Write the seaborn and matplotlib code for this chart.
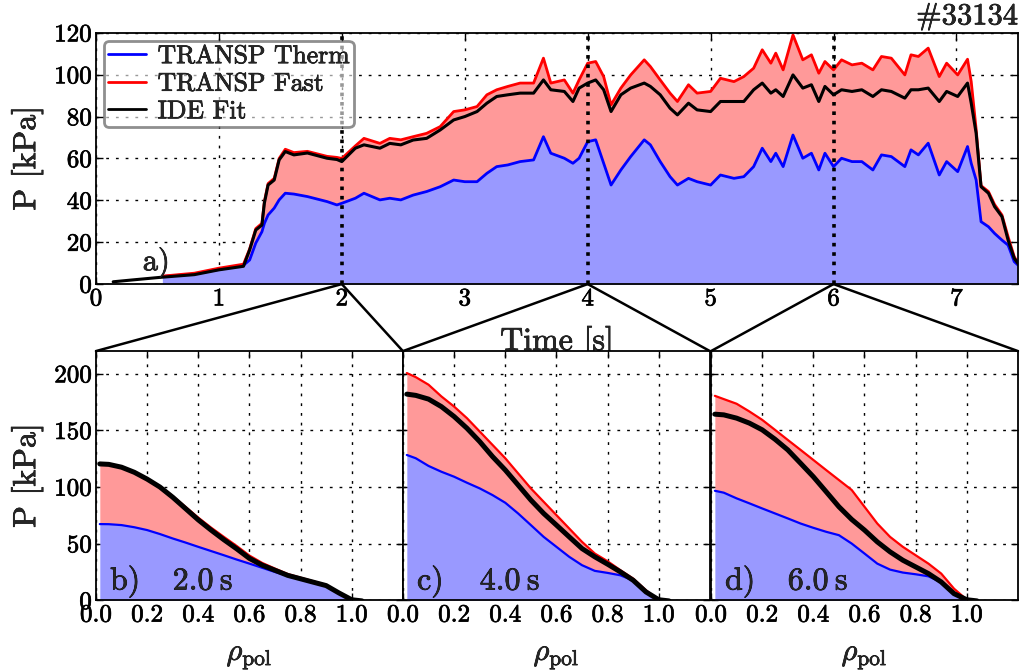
import numpy as np
import pandas as pd
import matplotlib
matplotlib.use("Agg")
import matplotlib.pyplot as plt
import matplotlib.patheffects as pe
import seaborn as sns
from matplotlib.patches import ConnectionPatch

# ---- time traces (top panel) ----
t_transp = [0.54, 0.80, 1.00, 1.20, 1.25, 1.30, 1.35, 1.37, 1.40, 1.45, 1.49, 1.54, 1.61, 1.72, 1.88, 1.96,
            2.00, 2.11, 2.18, 2.31, 2.39, 2.48, 2.58, 2.69, 2.80, 2.91, 3.00, 3.10, 3.18, 3.26, 3.35, 3.45,
            3.56, 3.64, 3.70, 3.81, 3.88, 3.93, 4.00, 4.065, 4.13, 4.19, 4.27, 4.35, 4.46, 4.51, 4.59, 4.67,
            4.73, 4.82, 4.89, 5.00, 5.08, 5.19, 5.27, 5.35, 5.42, 5.49, 5.53, 5.59, 5.67, 5.75, 5.82, 5.88,
            5.93, 6.00, 6.065, 6.15, 6.23, 6.32, 6.39, 6.47, 6.58, 6.63, 6.69, 6.77, 6.86, 6.92, 7.01, 7.09,
            7.12, 7.16, 7.20, 7.26, 7.31, 7.37, 7.42, 7.47, 7.50]
p_therm = [3.6, 4.8, 7.0, 9.0, 11.5, 19.6, 25.0, 29.0, 33.0, 36.3, 40.2, 43.4, 43.0, 41.8, 39.4, 37.8,
           38.6, 41.0, 43.4, 40.2, 41.0, 40.2, 42.5, 44.2, 46.5, 49.7, 48.9, 48.9, 52.9, 56.1, 56.9, 58.5,
           59.3, 70.4, 62.5, 60.1, 57.7, 60.1, 68.0, 68.9, 57.7, 47.3, 54.5, 60.9, 68.9, 66.5, 58.5, 51.3,
           47.3, 50.5, 48.9, 47.3, 52.1, 50.5, 51.3, 56.1, 64.9, 58.5, 62.5, 56.1, 71.2, 60.1, 62.5, 54.5,
           62.5, 56.1, 60.1, 58.5, 58.5, 54.5, 61.7, 60.9, 56.1, 64.1, 61.7, 67.3, 52.1, 58.5, 53.7, 65.7,
           57.7, 49.7, 29.8, 27.4, 24.2, 21.0, 18.6, 10.7, 9.1]
p_total = [3.8, 5.2, 7.6, 9.5, 16.8, 26.5, 29.0, 39.5, 48.0, 50.5, 60.0, 64.4, 62.8, 63.4, 61.0, 60.5,
           60.0, 66.0, 69.6, 67.2, 69.6, 68.9, 70.4, 72.0, 75.2, 82.4, 83.2, 84.8, 90.4, 92.8, 94.4, 96.0,
           96.0, 107.9, 96.0, 97.5, 91.2, 97.5, 105.5, 106.3, 99.1, 85.6, 93.6, 99.9, 107.1, 103.9, 97.5, 91.2,
           87.2, 95.2, 91.2, 92.0, 98.3, 96.7, 99.1, 103.1, 111.9, 105.5, 110.3, 102.3, 119.0, 107.1, 109.5, 100.7,
           106.3, 102.3, 107.1, 104.7, 105.5, 102.3, 108.7, 107.9, 99.9, 109.5, 108.7, 112.7, 99.1, 105.5, 99.9, 107.4,
           96.7, 74.0, 47.0, 44.2, 38.0, 33.0, 22.6, 13.1, 10.0]

t_ide = [0.14, 0.30, 0.52, 0.80, 1.00, 1.20, 1.25, 1.30, 1.35, 1.37, 1.40, 1.45, 1.49, 1.54, 1.61, 1.72,
         1.88, 1.96, 2.00, 2.11, 2.18, 2.31, 2.39, 2.48, 2.58, 2.69, 2.80, 2.91, 3.00, 3.10, 3.18, 3.26,
         3.35, 3.45, 3.56, 3.64, 3.70, 3.81, 3.88, 3.93, 4.00, 4.065, 4.13, 4.19, 4.27, 4.35, 4.46, 4.51,
         4.59, 4.67, 4.73, 4.82, 4.89, 5.00, 5.08, 5.19, 5.27, 5.35, 5.42, 5.49, 5.53, 5.59, 5.67, 5.75,
         5.82, 5.88, 5.93, 6.00, 6.065, 6.15, 6.23, 6.32, 6.39, 6.47, 6.58, 6.63, 6.69, 6.77, 6.86, 6.92,
         7.01, 7.09, 7.12, 7.16, 7.20, 7.26, 7.31, 7.37, 7.42, 7.47, 7.50]
p_ide = [1.1, 2.0, 3.2, 4.5, 6.8, 8.5, 16.3, 25.8, 28.2, 38.7, 47.3, 49.7, 59.3, 63.3, 61.7, 62.6,
         60.1, 59.5, 58.5, 64.9, 66.5, 64.9, 67.2, 66.5, 68.8, 69.6, 73.6, 78.4, 80.0, 82.4, 86.4, 89.6,
         90.4, 91.2, 91.2, 97.5, 92.8, 92.0, 87.2, 93.6, 96.0, 97.5, 92.8, 82.4, 90.4, 93.6, 96.0, 94.4,
         90.4, 84.0, 80.8, 86.4, 83.2, 82.4, 87.2, 87.2, 87.2, 92.8, 96.0, 91.2, 92.8, 89.6, 99.9, 93.6,
         95.2, 87.2, 94.4, 90.4, 92.8, 92.0, 92.8, 89.6, 92.8, 92.0, 88.8, 92.8, 92.8, 93.6, 87.2, 92.0,
         89.6, 96.0, 86.4, 72.0, 46.5, 43.4, 37.0, 32.2, 21.0, 12.3, 9.9]

# ---- profiles (bottom panels) ----
rho = [0.015, 0.05, 0.10, 0.15, 0.20, 0.25, 0.30, 0.35, 0.40, 0.45, 0.50,
       0.55, 0.60, 0.65, 0.70, 0.75, 0.80, 0.85, 0.90, 0.95, 1.00]
rho_ide = rho + [1.04]

prof_times = [2.0, 4.0, 6.0]
prof_labels = ['b)', 'c)', 'd)']
prof_therm = [
    [67.3, 67.2, 66.4, 64.5, 62.0, 58.5, 54.6, 51.0, 47.2, 43.5, 39.8,
     36.0, 32.4, 28.7, 25.0, 21.8, 19.0, 16.2, 13.0, 6.0, 0.0],
    [128.3, 125.4, 118.6, 113.5, 109.1, 103.8, 98.8, 92.9, 86.1, 76.7, 66.4,
     56.0, 47.2, 38.4, 31.0, 26.0, 24.2, 22.1, 17.5, 7.0, 0.0],
    [96.7, 95.0, 90.0, 85.6, 81.1, 76.7, 72.3, 67.8, 64.0, 60.5, 57.5,
     50.1, 41.3, 32.4, 27.1, 24.5, 23.0, 21.2, 16.0, 5.5, 0.0],
]
prof_total = [
    [120.4, 120.0, 117.5, 113.0, 107.2, 100.5, 92.0, 82.5, 73.0, 64.2, 56.0,
     48.0, 39.5, 33.0, 28.0, 23.2, 20.0, 16.8, 13.5, 6.8, 0.0],
    [200.6, 197.0, 190.3, 180.0, 171.0, 160.8, 149.0, 137.2, 125.4, 112.1, 98.8,
     87.0, 75.2, 63.4, 51.6, 41.3, 34.5, 26.6, 19.2, 8.9, 0.0],
    [180.5, 177.6, 173.5, 166.7, 159.3, 150.5, 141.6, 132.8, 123.9, 115.0, 106.2,
     97.4, 82.6, 67.8, 56.0, 47.2, 39.8, 32.4, 23.6, 10.3, 0.5],
]
prof_ide = [
    [120.4, 120.0, 117.5, 113.0, 107.0, 100.0, 91.0, 81.0, 71.0, 62.0, 53.5,
     45.5, 37.0, 31.0, 26.5, 22.0, 19.0, 16.0, 13.0, 6.5, 0.5, -0.5],
    [182.0, 180.9, 177.6, 171.0, 162.2, 151.9, 140.1, 126.9, 115.0, 101.8, 88.5,
     76.7, 66.4, 56.0, 45.7, 38.4, 31.9, 25.1, 17.7, 7.4, 0.5, -0.5],
    [164.3, 163.7, 160.8, 156.4, 150.5, 142.2, 132.8, 121.0, 109.1, 95.9, 82.6,
     71.4, 62.0, 51.6, 42.8, 35.4, 29.5, 23.6, 16.2, 5.9, 0.5, -0.5],
]

BLUE_FILL = '#9999ff'
RED_FILL = '#ff9999'

sns.set_theme(style='ticks')
plt.rcParams['font.family'] = ['cmr10', 'DejaVu Serif']
plt.rcParams['mathtext.fontset'] = 'cm'
plt.rcParams['axes.unicode_minus'] = False
plt.rcParams['axes.formatter.use_mathtext'] = True
plt.rcParams['axes.edgecolor'] = 'black'
plt.rcParams['xtick.color'] = 'black'
plt.rcParams['ytick.color'] = 'black'

GRID_LS = (0, (2, 5))


def style_axes(ax):
    ax.tick_params(direction='in', top=True, right=True, length=5, width=1, labelsize=18, pad=3)
    ax.grid(True, color='black', linestyle=GRID_LS, linewidth=1)
    for s in ax.spines.values():
        s.set_color('black')
        s.set_linewidth(1.3)


fig = plt.figure(figsize=(10.21, 6.70), dpi=100)

# ---- top panel ----
ax = fig.add_axes([0.094, 0.576, 0.903, 0.375])
ax.fill_between(t_transp, 0, p_therm, color=BLUE_FILL, lw=0)
ax.fill_between(t_transp, p_therm, p_total, color=RED_FILL, lw=0)
sns.lineplot(x=t_transp, y=p_therm, ax=ax, color='#0000ff', lw=2, label='TRANSP Therm',
             estimator=None, sort=False)
sns.lineplot(x=t_transp, y=p_total, ax=ax, color='#ff0000', lw=2, label='TRANSP Fast',
             estimator=None, sort=False)
sns.lineplot(x=t_ide, y=p_ide, ax=ax, color='black', lw=2.2, label='IDE Fit',
             estimator=None, sort=False)
for tt in prof_times:
    ax.axvline(tt, color='black', lw=2.6, linestyle=(0, (1, 1.6)), zorder=5)
ax.set_xlim(0, 7.5)
ax.set_ylim(0, 120)
ax.set_xticks(range(8))
ax.set_xticklabels([str(i) for i in range(8)])
ax.set_yticks(range(0, 121, 20))
ax.set_yticklabels([str(i) for i in range(0, 121, 20)])
style_axes(ax)
ax.set_xlabel('Time [s]', fontsize=23, labelpad=12)
ax.set_ylabel('P [kPa]', fontsize=23, labelpad=8)
ax.text(0.38, 6.6, 'a)', fontsize=22, ha='left', va='baseline')
ax.text(1.0, 1.01, '#33134', transform=ax.transAxes, fontsize=22, ha='right', va='bottom')
leg = ax.legend(loc='upper left', fontsize=18.5, handlelength=1.5, handletextpad=0.45,
                borderpad=0.15, labelspacing=0.15, borderaxespad=0.3, fancybox=True, framealpha=0.6)
leg.get_frame().set_edgecolor('#444444')
leg.get_frame().set_linewidth(2)
for h in leg.get_lines():
    h.set_linewidth(2)

# ---- bottom panels ----
lefts = [0.094, 0.3947, 0.6964]
w = 0.3006
for i in range(3):
    a = fig.add_axes([lefts[i], 0.104, w, 0.372])
    a.fill_between(rho, 0, prof_therm[i], color=BLUE_FILL, lw=0)
    a.fill_between(rho, prof_therm[i], prof_total[i], color=RED_FILL, lw=0)
    sns.lineplot(x=rho, y=prof_therm[i], ax=a, color='#0000ff', lw=1.6, estimator=None, sort=False)
    sns.lineplot(x=rho, y=prof_total[i], ax=a, color='#ff0000', lw=1.6, estimator=None, sort=False)
    sns.lineplot(x=rho_ide, y=prof_ide[i], ax=a, color='black', lw=3.6, estimator=None, sort=False)
    a.set_xlim(0, 1.2)
    a.set_ylim(0, 220)
    a.set_xticks([0.0, 0.2, 0.4, 0.6, 0.8, 1.0])
    a.set_xticklabels(['0.0', '0.2', '0.4', '0.6', '0.8', '1.0'])
    a.set_yticks([0, 50, 100, 150, 200])
    if i == 0:
        a.set_yticklabels(['0', '50', '100', '150', '200'])
        a.set_ylabel('P [kPa]', fontsize=23, labelpad=8)
    else:
        a.set_yticklabels([])
    style_axes(a)
    a.set_xlabel(r'$\rho_{\rm pol}$', fontsize=22, labelpad=12)
    a.text(0.055, 9.5, prof_labels[i], fontsize=23, ha='left', va='baseline')
    a.text(0.30, 9.5, '%.1f\u2009s' % prof_times[i], fontsize=23, ha='left', va='baseline')

    # zoom connectors from the time axis to the panel corners
    for corner in [(0, 1), (1, 1)]:
        con = ConnectionPatch(xyA=(prof_times[i], 0), coordsA=ax.transData,
                              xyB=corner, coordsB=a.transAxes, color='black', lw=1.8)
        fig.add_artist(con)

# slightly heavier text, closer to the LaTeX-rendered original
for txt in fig.findobj(matplotlib.text.Text):
    txt.set_path_effects([pe.withStroke(linewidth=0.5, foreground='black')])

fig.savefig('out.png', dpi=100)
